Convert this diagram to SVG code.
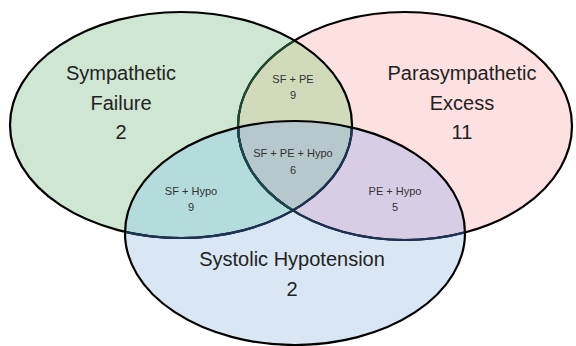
<svg xmlns="http://www.w3.org/2000/svg" width="576" height="346" viewBox="0 0 576 346">
<defs>
<ellipse id="eP" cx="405" cy="126" rx="167" ry="114"/>
<ellipse id="eG" cx="181" cy="125" rx="171" ry="113"/>
<ellipse id="eB" cx="295" cy="233" rx="170" ry="112"/>
<clipPath id="cP"><use href="#eP"/></clipPath>
<clipPath id="cG"><use href="#eG"/></clipPath>
<clipPath id="cB"><use href="#eB"/></clipPath>
</defs>
<style>
.edge{fill:none;stroke:#000;stroke-width:2.2}
.tg{stroke:#1f4a2c}
.tb{stroke:#1c3456}
.tt{stroke:#1d4650}
.big{font-family:"Liberation Sans",Arial,sans-serif;font-size:20px;fill:#222;text-anchor:middle}
.small{font-family:"Liberation Sans",Arial,sans-serif;font-size:11px;fill:#333;text-anchor:middle}
</style>
<rect width="576" height="346" fill="#fff"/>
<g id="pe">
<use href="#eP" fill="#fde0e0"/>
</g>
<g id="sf">
<use href="#eG" fill="#cfe7d2"/>
<use href="#eP" fill="#d1dabb" clip-path="url(#cG)"/>
</g>
<g id="sh">
<use href="#eB" fill="#d9e7f5"/>
<use href="#eB" fill="#b5dcdc" clip-path="url(#cG)"/>
<use href="#eB" fill="#d9cde5" clip-path="url(#cP)"/>
<g clip-path="url(#cP)"><use href="#eB" fill="#b7c8cc" clip-path="url(#cG)"/></g>
</g>
<g id="edges">
<use href="#eP" class="edge"/>
<use href="#eP" class="edge tg" clip-path="url(#cG)"/>
<use href="#eP" class="edge tb" clip-path="url(#cB)"/>
<g clip-path="url(#cG)"><use href="#eP" class="edge tt" clip-path="url(#cB)"/></g>
<use href="#eG" class="edge"/>
<use href="#eG" class="edge tb" clip-path="url(#cB)"/>
<use href="#eB" class="edge"/>
</g>
<g id="labels">
<text class="big" x="121" y="80">Sympathetic</text>
<text class="big" x="121" y="110">Failure</text>
<text class="big" x="121" y="139">2</text>
<text class="big" x="462" y="80">Parasympathetic</text>
<text class="big" x="462" y="110">Excess</text>
<text class="big" x="462" y="139">11</text>
<text class="big" x="292" y="266">Systolic Hypotension</text>
<text class="big" x="292" y="296">2</text>
<text class="small" x="293" y="83">SF + PE</text>
<text class="small" x="293" y="99">9</text>
<text class="small" x="293" y="157">SF + PE + Hypo</text>
<text class="small" x="293" y="174">6</text>
<text class="small" x="191" y="195">SF + Hypo</text>
<text class="small" x="191" y="211">9</text>
<text class="small" x="395" y="195">PE + Hypo</text>
<text class="small" x="395" y="211">5</text>
</g>
</svg>
